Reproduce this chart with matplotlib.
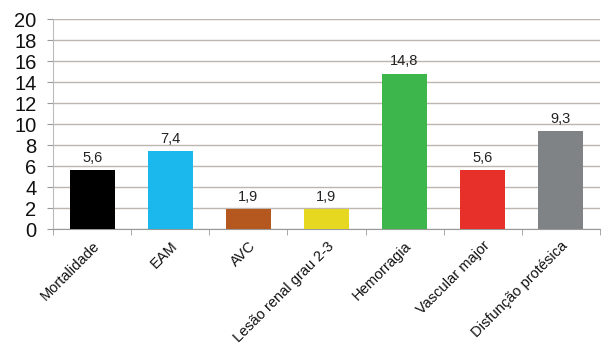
import matplotlib.pyplot as plt
import matplotlib.transforms as mtransforms
import numpy as np

categorias = ["Mortalidade", "EAM", "AVC", "Lesão renal grau 2-3",
              "Hemorragia", "Vascular major", "Disfunção protésica"]
valores = [5.6, 7.4, 1.9, 1.9, 14.8, 5.6, 9.3]
cores = ["#000000", "#1ab8ec", "#b5581f", "#e6d820", "#3db74b", "#e8302a", "#808386"]
yticks = [0, 2, 4, 6, 8, 10, 12, 14, 16, 18, 20]

plt.rcParams['font.family'] = ['Liberation Sans', 'DejaVu Sans']

fig = plt.figure(figsize=(6.04, 3.53), dpi=100)
ax = fig.add_axes([0.088, 0.351, 0.905, 0.595])

x = np.arange(len(categorias))
ax.bar(x, valores, width=0.58, color=cores, zorder=3)

for xi, v in zip(x, valores):
    ax.text(xi, v + 0.5, f"{v:.1f}".replace(".", ","), ha='center', va='bottom',
            fontsize=10.5, color='#222222')

ax.set_xlim(-0.5, len(categorias) - 0.5)
ax.set_ylim(0, 20)
ax.set_yticks(yticks)
ax.set_yticklabels([str(t) for t in yticks], fontsize=14.5, color='#111111')
ax.yaxis.grid(True, color='#bdb5ae', linewidth=1, zorder=0)

ax.set_xticks(x)
ax.set_xticklabels(categorias, rotation=45, ha='right', rotation_mode='anchor',
                   fontsize=10.5, color='#111111')
# shift labels a bit to the left like the original
offset = mtransforms.ScaledTranslation(-10 / 100, 0, fig.dpi_scale_trans)
for lab in ax.get_xticklabels():
    lab.set_transform(lab.get_transform() + offset)
ax.set_xticks(np.arange(len(categorias) + 1) - 0.5, minor=True)
ax.tick_params(axis='x', which='major', length=0, pad=7)
ax.tick_params(axis='x', which='minor', length=4, color='#999999', direction='out')
ax.tick_params(axis='y', length=4, color='#999999', pad=8)

for s in ['top', 'right']:
    ax.spines[s].set_visible(False)
ax.spines['left'].set_color('#bbbbbb')
ax.spines['bottom'].set_color('#999999')

fig.savefig("out.png", dpi=100)
